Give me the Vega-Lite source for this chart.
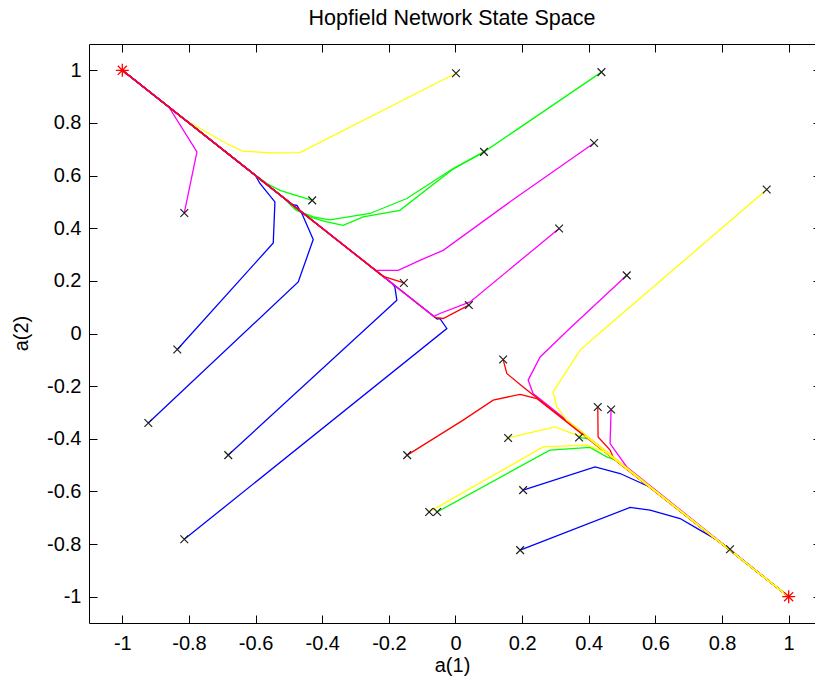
{
  "$schema": "https://vega.github.io/schema/vega-lite/v6.json",
  "width": 726,
  "height": 579,
  "autosize": {"type": "none"},
  "padding": {"left": 89, "top": 44, "right": 0, "bottom": 61},
  "background": "white",
  "config": {
    "view": {"stroke": null},
    "axis": {"grid": false, "domainColor": "black", "tickColor": "black", "labelColor": "black", "titleColor": "black", "labelFont": "Liberation Sans", "titleFont": "Liberation Sans", "labelFontSize": 20, "titleFontSize": 20, "titleFontWeight": "normal", "labelOverlap": false, "labelFlush": false}
  },
  "title": {"text": "Hopfield Network State Space", "font": "Liberation Sans", "fontSize": 21.5, "fontWeight": "normal", "color": "black", "anchor": "middle", "frame": "group", "baseline": "alphabetic", "offset": -3},
  "datasets": {
    "traj": [
      {"t":1,"c":"yellow","i":0,"x":0.0015,"y":0.989},{"t":1,"c":"yellow","i":1,"x":-0.467,"y":0.687},{"t":1,"c":"yellow","i":2,"x":-0.551,"y":0.686},{"t":1,"c":"yellow","i":3,"x":-0.64,"y":0.693},{"t":1,"c":"yellow","i":4,"x":-0.686,"y":0.721},{"t":1,"c":"yellow","i":5,"x":-0.81,"y":0.81},{"t":1,"c":"yellow","i":6,"x":-1,"y":1},
      {"t":2,"c":"lime","i":0,"x":0.438,"y":0.993},{"t":2,"c":"lime","i":1,"x":0.0855,"y":0.69},{"t":2,"c":"lime","i":2,"x":-0.007,"y":0.627},{"t":2,"c":"lime","i":3,"x":-0.146,"y":0.513},{"t":2,"c":"lime","i":4,"x":-0.257,"y":0.456},{"t":2,"c":"lime","i":5,"x":-0.377,"y":0.432},{"t":2,"c":"lime","i":6,"x":-0.427,"y":0.443},{"t":2,"c":"lime","i":7,"x":-0.476,"y":0.468},{"t":2,"c":"lime","i":8,"x":-0.52,"y":0.52},{"t":2,"c":"lime","i":9,"x":-1,"y":1},
      {"t":3,"c":"lime","i":0,"x":0.0855,"y":0.69},{"t":3,"c":"lime","i":1,"x":-0.01,"y":0.622},{"t":3,"c":"lime","i":2,"x":-0.167,"y":0.468},{"t":3,"c":"lime","i":3,"x":-0.277,"y":0.443},{"t":3,"c":"lime","i":4,"x":-0.337,"y":0.411},{"t":3,"c":"lime","i":5,"x":-0.39,"y":0.425},{"t":3,"c":"lime","i":6,"x":-0.43,"y":0.44},{"t":3,"c":"lime","i":7,"x":-0.48,"y":0.47},{"t":3,"c":"lime","i":8,"x":-0.52,"y":0.52},{"t":3,"c":"lime","i":9,"x":-1,"y":1},
      {"t":4,"c":"lime","i":0,"x":-0.43,"y":0.506},{"t":4,"c":"lime","i":1,"x":-0.527,"y":0.544},{"t":4,"c":"lime","i":2,"x":-0.566,"y":0.57},{"t":4,"c":"lime","i":3,"x":-0.608,"y":0.609},{"t":4,"c":"lime","i":4,"x":-1,"y":1},
      {"t":5,"c":"magenta","i":0,"x":-0.814,"y":0.458},{"t":5,"c":"magenta","i":1,"x":-0.776,"y":0.69},{"t":5,"c":"magenta","i":2,"x":-0.86,"y":0.86},{"t":5,"c":"magenta","i":3,"x":-1,"y":1},
      {"t":6,"c":"blue","i":0,"x":-0.835,"y":-0.061},{"t":6,"c":"blue","i":1,"x":-0.547,"y":0.344},{"t":6,"c":"blue","i":2,"x":-0.542,"y":0.5},{"t":6,"c":"blue","i":3,"x":-0.587,"y":0.57},{"t":6,"c":"blue","i":4,"x":-0.6,"y":0.6},{"t":6,"c":"blue","i":5,"x":-1,"y":1},
      {"t":7,"c":"blue","i":0,"x":-0.922,"y":-0.34},{"t":7,"c":"blue","i":1,"x":-0.472,"y":0.196},{"t":7,"c":"blue","i":2,"x":-0.427,"y":0.357},{"t":7,"c":"blue","i":3,"x":-0.461,"y":0.456},{"t":7,"c":"blue","i":4,"x":-0.476,"y":0.487},{"t":7,"c":"blue","i":5,"x":-0.49,"y":0.49},{"t":7,"c":"blue","i":6,"x":-1,"y":1},
      {"t":8,"c":"blue","i":0,"x":-0.682,"y":-0.462},{"t":8,"c":"blue","i":1,"x":-0.176,"y":0.126},{"t":8,"c":"blue","i":2,"x":-0.182,"y":0.177},{"t":8,"c":"blue","i":3,"x":-0.191,"y":0.191},{"t":8,"c":"blue","i":4,"x":-1,"y":1},
      {"t":9,"c":"blue","i":0,"x":-0.814,"y":-0.782},{"t":9,"c":"blue","i":1,"x":-0.026,"y":0.019},{"t":9,"c":"blue","i":2,"x":-0.047,"y":0.057},{"t":9,"c":"blue","i":3,"x":-0.055,"y":0.055},{"t":9,"c":"blue","i":4,"x":-1,"y":1},
      {"t":10,"c":"magenta","i":0,"x":0.416,"y":0.724},{"t":10,"c":"magenta","i":1,"x":0.184,"y":0.519},{"t":10,"c":"magenta","i":2,"x":-0.037,"y":0.316},{"t":10,"c":"magenta","i":3,"x":-0.107,"y":0.278},{"t":10,"c":"magenta","i":4,"x":-0.172,"y":0.24},{"t":10,"c":"magenta","i":5,"x":-0.202,"y":0.24},{"t":10,"c":"magenta","i":6,"x":-0.24,"y":0.24},{"t":10,"c":"magenta","i":7,"x":-1,"y":1},
      {"t":11,"c":"red","i":0,"x":0.04,"y":0.108},{"t":11,"c":"red","i":1,"x":-0.037,"y":0.057},{"t":11,"c":"red","i":2,"x":-0.06,"y":0.06},{"t":11,"c":"red","i":3,"x":-1,"y":1},
      {"t":12,"c":"magenta","i":0,"x":0.311,"y":0.399},{"t":12,"c":"magenta","i":1,"x":0.044,"y":0.12},{"t":12,"c":"magenta","i":2,"x":-0.047,"y":0.076},{"t":12,"c":"magenta","i":3,"x":-0.065,"y":0.065},{"t":12,"c":"magenta","i":4,"x":-1,"y":1},
      {"t":13,"c":"red","i":0,"x":-0.155,"y":0.192},{"t":13,"c":"red","i":1,"x":-0.212,"y":0.215},{"t":13,"c":"red","i":2,"x":-0.22,"y":0.22},{"t":13,"c":"red","i":3,"x":-1,"y":1},
      {"t":14,"c":"blue","i":0,"x":0.203,"y":-0.595},{"t":14,"c":"blue","i":1,"x":0.419,"y":-0.507},{"t":14,"c":"blue","i":2,"x":0.494,"y":-0.532},{"t":14,"c":"blue","i":3,"x":0.593,"y":-0.589},{"t":14,"c":"blue","i":4,"x":0.66,"y":-0.66},{"t":14,"c":"blue","i":5,"x":1,"y":-1},
      {"t":15,"c":"blue","i":0,"x":0.194,"y":-0.823},{"t":15,"c":"blue","i":1,"x":0.524,"y":-0.661},{"t":15,"c":"blue","i":2,"x":0.584,"y":-0.671},{"t":15,"c":"blue","i":3,"x":0.674,"y":-0.703},{"t":15,"c":"blue","i":4,"x":0.734,"y":-0.747},{"t":15,"c":"blue","i":5,"x":0.794,"y":-0.791},{"t":15,"c":"blue","i":6,"x":1,"y":-1},
      {"t":16,"c":"magenta","i":0,"x":0.514,"y":0.221},{"t":16,"c":"magenta","i":1,"x":0.338,"y":0.013},{"t":16,"c":"magenta","i":2,"x":0.254,"y":-0.089},{"t":16,"c":"magenta","i":3,"x":0.218,"y":-0.177},{"t":16,"c":"magenta","i":4,"x":0.233,"y":-0.228},{"t":16,"c":"magenta","i":5,"x":1,"y":-1},
      {"t":17,"c":"magenta","i":0,"x":0.467,"y":-0.289},{"t":17,"c":"magenta","i":1,"x":0.464,"y":-0.418},{"t":17,"c":"magenta","i":2,"x":0.514,"y":-0.507},{"t":17,"c":"magenta","i":3,"x":1,"y":-1},
      {"t":18,"c":"lime","i":0,"x":0.371,"y":-0.395},{"t":18,"c":"lime","i":1,"x":0.4,"y":-0.4},{"t":18,"c":"lime","i":2,"x":1,"y":-1},
      {"t":19,"c":"lime","i":0,"x":-0.055,"y":-0.678},{"t":19,"c":"lime","i":1,"x":0.283,"y":-0.443},{"t":19,"c":"lime","i":2,"x":0.404,"y":-0.433},{"t":19,"c":"lime","i":3,"x":0.454,"y":-0.469},{"t":19,"c":"lime","i":4,"x":0.48,"y":-0.48},{"t":19,"c":"lime","i":5,"x":1,"y":-1},
      {"t":20,"c":"red","i":0,"x":0.143,"y":-0.099},{"t":20,"c":"red","i":1,"x":0.154,"y":-0.152},{"t":20,"c":"red","i":2,"x":0.203,"y":-0.203},{"t":20,"c":"red","i":3,"x":1,"y":-1},
      {"t":21,"c":"red","i":0,"x":-0.145,"y":-0.462},{"t":21,"c":"red","i":1,"x":0.023,"y":-0.329},{"t":21,"c":"red","i":2,"x":0.113,"y":-0.253},{"t":21,"c":"red","i":3,"x":0.194,"y":-0.231},{"t":21,"c":"red","i":4,"x":0.244,"y":-0.247},{"t":21,"c":"red","i":5,"x":1,"y":-1},
      {"t":22,"c":"red","i":0,"x":0.427,"y":-0.279},{"t":22,"c":"red","i":1,"x":0.428,"y":-0.393},{"t":22,"c":"red","i":2,"x":0.464,"y":-0.443},{"t":22,"c":"red","i":3,"x":0.475,"y":-0.475},{"t":22,"c":"red","i":4,"x":1,"y":-1},
      {"t":23,"c":"yellow","i":0,"x":-0.079,"y":-0.678},{"t":23,"c":"yellow","i":1,"x":0.263,"y":-0.431},{"t":23,"c":"yellow","i":2,"x":0.394,"y":-0.424},{"t":23,"c":"yellow","i":3,"x":0.434,"y":-0.443},{"t":23,"c":"yellow","i":4,"x":0.45,"y":-0.45},{"t":23,"c":"yellow","i":5,"x":1,"y":-1},
      {"t":24,"c":"yellow","i":0,"x":0.158,"y":-0.397},{"t":24,"c":"yellow","i":1,"x":0.299,"y":-0.355},{"t":24,"c":"yellow","i":2,"x":0.364,"y":-0.386},{"t":24,"c":"yellow","i":3,"x":0.39,"y":-0.39},{"t":24,"c":"yellow","i":4,"x":1,"y":-1},
      {"t":25,"c":"yellow","i":0,"x":0.934,"y":0.547},{"t":25,"c":"yellow","i":1,"x":0.443,"y":0.013},{"t":25,"c":"yellow","i":2,"x":0.374,"y":-0.063},{"t":25,"c":"yellow","i":3,"x":0.293,"y":-0.222},{"t":25,"c":"yellow","i":4,"x":0.304,"y":-0.279},{"t":25,"c":"yellow","i":5,"x":0.334,"y":-0.329},{"t":25,"c":"yellow","i":6,"x":1,"y":-1}
    ],
    "starts": [
      {"x":0.0015,"y":0.989},{"x":0.438,"y":0.993},{"x":0.0855,"y":0.69},{"x":-0.43,"y":0.506},{"x":-0.814,"y":0.458},
      {"x":-0.835,"y":-0.061},{"x":-0.922,"y":-0.34},{"x":-0.682,"y":-0.462},{"x":-0.814,"y":-0.782},{"x":0.416,"y":0.724},
      {"x":0.04,"y":0.108},{"x":0.311,"y":0.399},{"x":-0.155,"y":0.192},{"x":0.203,"y":-0.595},{"x":0.194,"y":-0.823},
      {"x":0.514,"y":0.221},{"x":0.467,"y":-0.289},{"x":0.371,"y":-0.395},{"x":-0.055,"y":-0.678},{"x":0.143,"y":-0.099},
      {"x":-0.145,"y":-0.462},{"x":0.427,"y":-0.279},{"x":-0.079,"y":-0.678},{"x":0.158,"y":-0.397},{"x":0.934,"y":0.547},
      {"x":0.824,"y":-0.82}
    ],
    "attractors": [{"x":-1,"y":1},{"x":1,"y":-1}]
  },
  "layer": [
    {
      "data": {"name": "traj"},
      "mark": {"type": "line", "strokeWidth": 1.3, "clip": true},
      "encoding": {
        "x": {"field": "x", "type": "quantitative", "scale": {"domain": [-1.1, 1.079], "nice": false, "zero": false},
          "axis": {"orient": "bottom", "values": [-1,-0.8,-0.6,-0.4,-0.2,0,0.2,0.4,0.6,0.8,1], "tickSize": -8, "labelPadding": 18, "labelExpr": "replace(format(datum.value, '.1~f'), '\u2212', '-')", "title": "a(1)", "titleY": 42, "titleBaseline": "middle"}},
        "y": {"field": "y", "type": "quantitative", "scale": {"domain": [-1.1, 1.1], "nice": false, "zero": false},
          "axis": {"orient": "left", "values": [-1,-0.8,-0.6,-0.4,-0.2,0,0.2,0.4,0.6,0.8,1], "tickSize": -8, "labelPadding": 16, "labelExpr": "replace(format(datum.value, '.1~f'), '\u2212', '-')", "title": "a(2)", "titleX": -68, "titleY": 289, "titleBaseline": "middle"}},
        "color": {"field": "c", "type": "nominal", "scale": null},
        "detail": {"field": "t", "type": "nominal"},
        "order": {"field": "i", "type": "quantitative"}
      }
    },
    {
      "data": {"name": "starts"},
      "mark": {"type": "point", "shape": "M-1,-1L1,1M-1,1L1,-1", "filled": false, "stroke": "#202020", "strokeWidth": 1.2, "size": 60, "opacity": 1},
      "encoding": {
        "x": {"field": "x", "type": "quantitative", "axis": null},
        "y": {"field": "y", "type": "quantitative", "axis": null}
      }
    },
    {
      "data": {"name": "attractors"},
      "mark": {"type": "point", "shape": "M-1,0L1,0M0,-1L0,1M-0.7,-0.7L0.7,0.7M-0.7,0.7L0.7,-0.7", "filled": false, "stroke": "red", "strokeWidth": 1.3, "size": 169, "opacity": 1},
      "encoding": {
        "x": {"field": "x", "type": "quantitative",
          "axis": {"orient": "top", "values": [-1,-0.8,-0.6,-0.4,-0.2,0,0.2,0.4,0.6,0.8,1], "tickSize": -8, "labels": false, "title": null}},
        "y": {"field": "y", "type": "quantitative",
          "axis": {"orient": "right", "values": [-1,-0.8,-0.6,-0.4,-0.2,0,0.2,0.4,0.6,0.8,1], "tickSize": -2, "labels": false, "domain": false, "title": null}}
      }
    }
  ],
  "resolve": {"axis": {"x": "independent", "y": "independent"}}
}
